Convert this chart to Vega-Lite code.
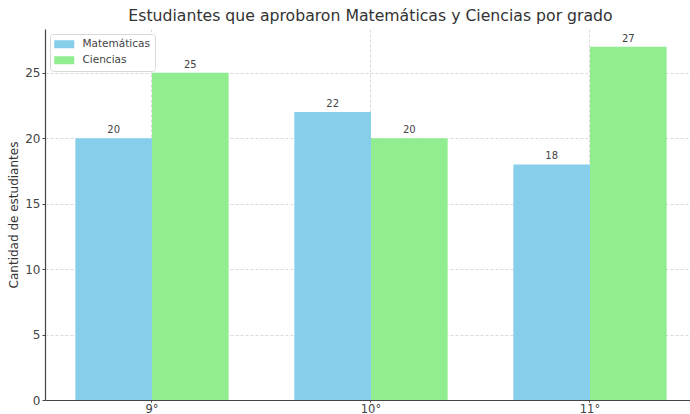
{
  "$schema": "https://vega.github.io/schema/vega-lite/v6.json",
  "width": 645,
  "height": 371,
  "autosize": {"type": "none"},
  "padding": {"left": 45, "top": 29, "right": 0, "bottom": 14},
  "background": "white",
  "config": {
    "font": "DejaVu Sans",
    "view": {"stroke": null},
    "axis": {
      "labelFont": "DejaVu Sans",
      "titleFont": "DejaVu Sans",
      "labelColor": "#444444",
      "titleColor": "#333333",
      "domainColor": "#444444",
      "tickColor": "#444444",
      "gridColor": "#d0d0d0",
      "gridDash": [3, 2],
      "gridWidth": 0.8
    }
  },
  "title": {
    "text": "Estudiantes que aprobaron Matemáticas y Ciencias por grado",
    "font": "DejaVu Sans",
    "fontSize": 15.7,
    "fontWeight": "normal",
    "color": "#333333",
    "anchor": "middle",
    "dx": 3,
    "offset": 4
  },
  "data": {
    "values": [
      {"grado": "9°", "materia": "Matemáticas", "estudiantes": 20},
      {"grado": "9°", "materia": "Ciencias", "estudiantes": 25},
      {"grado": "10°", "materia": "Matemáticas", "estudiantes": 22},
      {"grado": "10°", "materia": "Ciencias", "estudiantes": 20},
      {"grado": "11°", "materia": "Matemáticas", "estudiantes": 18},
      {"grado": "11°", "materia": "Ciencias", "estudiantes": 27}
    ]
  },
  "encoding": {
    "x": {
      "field": "grado",
      "type": "nominal",
      "sort": ["9°", "10°", "11°"],
      "scale": {"paddingInner": 0.3, "paddingOuter": 0.1226, "align": 0.565},
      "axis": {
        "title": null,
        "labelAngle": 0,
        "labelFontSize": 11.5,
        "labelPadding": 1,
        "tickSize": 2,
        "bandPosition": 0.5,
        "grid": true,
        "domainWidth": 1.2
      }
    },
    "xOffset": {
      "field": "materia",
      "type": "nominal",
      "sort": ["Matemáticas", "Ciencias"],
      "scale": {"paddingInner": 0, "paddingOuter": 0}
    },
    "y": {
      "field": "estudiantes",
      "type": "quantitative",
      "scale": {"domain": [0, 28.35], "nice": false, "zero": true},
      "axis": {
        "title": "Cantidad de estudiantes",
        "titleFontSize": 12,
        "titleFontWeight": "normal",
        "titlePadding": 4,
        "values": [0, 5, 10, 15, 20, 25],
        "labelFontSize": 12,
        "labelPadding": 2,
        "tickSize": 3,
        "grid": true,
        "domainWidth": 1.2
      }
    }
  },
  "layer": [
    {
      "mark": {"type": "bar"},
      "encoding": {
        "color": {
          "field": "materia",
          "type": "nominal",
          "sort": ["Matemáticas", "Ciencias"],
          "scale": {"domain": ["Matemáticas", "Ciencias"], "range": ["#87CEEB", "#90EE90"]},
          "legend": {
            "title": null,
            "orient": "top-left",
            "offset": 5,
            "fillColor": "white",
            "strokeColor": "#d8d8d8",
            "cornerRadius": 3,
            "padding": 5,
            "labelFontSize": 10.5,
            "labelColor": "#444444",
            "labelFont": "DejaVu Sans",
            "symbolType": "M-2,-0.8H2V0.8H-2Z",
            "symbolSize": 100,
            "symbolOffset": 4,
            "symbolStrokeWidth": 0,
            "rowPadding": 5,
            "labelOffset": 13
          }
        }
      }
    },
    {
      "mark": {"type": "text", "baseline": "bottom", "dy": -3, "fontSize": 10, "color": "#444444", "font": "DejaVu Sans"},
      "encoding": {
        "text": {"field": "estudiantes", "type": "quantitative"}
      }
    }
  ]
}
